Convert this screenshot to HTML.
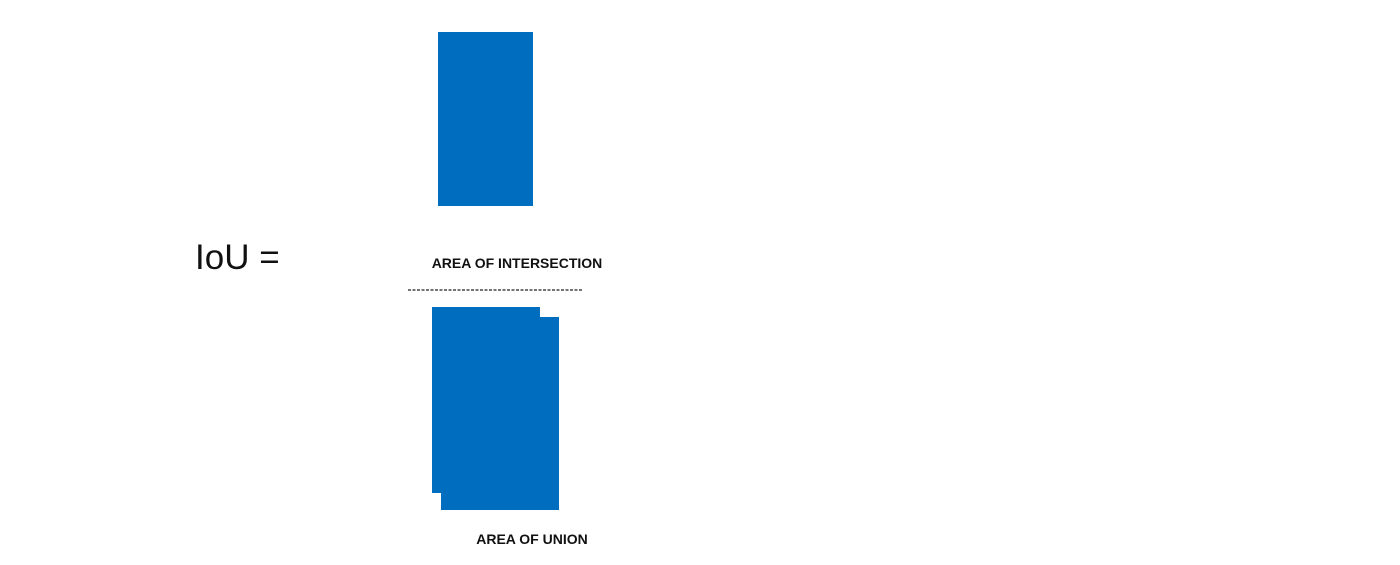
<!DOCTYPE html>
<html><head><meta charset="utf-8"><style>
html,body{margin:0;padding:0;background:#fff;width:1400px;height:565px;overflow:hidden}
svg{display:block}
</style></head><body>
<svg width="1400" height="565" viewBox="0 0 1400 565">
<text x="195" y="269" font-family="Liberation Sans, sans-serif" font-size="35" fill="#111">IoU =</text>
<rect x="438" y="32" width="95" height="174" fill="#006dbe"/>
<text x="517" y="268" text-anchor="middle" font-family="Liberation Sans, sans-serif" font-weight="bold" font-size="14" fill="#111">AREA OF INTERSECTION</text>
<line x1="408" y1="290" x2="582" y2="290" stroke="#222" stroke-width="1.3" stroke-dasharray="3,1.5"/>
<rect x="432" y="307" width="108" height="186" fill="#006dbe"/>
<rect x="441" y="317" width="118" height="193" fill="#006dbe"/>
<text x="532" y="544" text-anchor="middle" font-family="Liberation Sans, sans-serif" font-weight="bold" font-size="14" fill="#111">AREA OF UNION</text>
</svg>
</body></html>
